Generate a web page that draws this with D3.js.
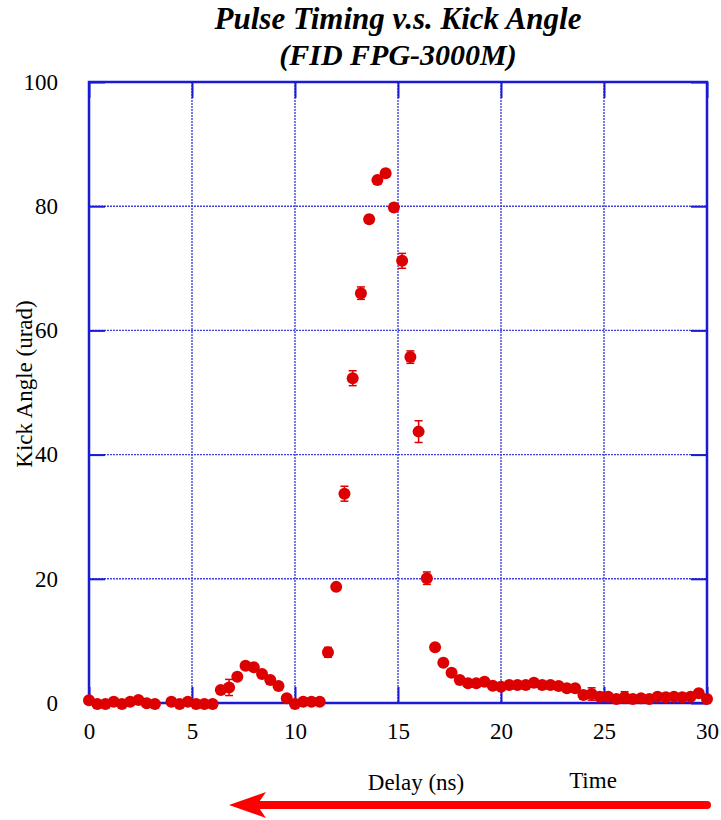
<!DOCTYPE html>
<html>
<head>
<meta charset="utf-8">
<script src="https://cdn.jsdelivr.net/npm/d3@7/dist/d3.min.js"></script>
<style>
  body { margin: 0; background: #fff; }
  text { font-family: "Liberation Serif", "Times New Roman", serif; fill: #000; }
</style>
</head>
<body>
<svg id="chart"></svg>
<script>
const width = 721;
const height = 820;

// delay (ns) of each measurement
const delay = [0, 0.4, 0.8, 1.2, 1.6, 2.0, 2.4, 2.8, 3.2, 4.0, 4.4, 4.8, 5.2, 5.6, 6.0,
  6.4, 6.8, 7.2, 7.6, 8.0, 8.4, 8.8, 9.2, 9.6, 10.0, 10.4, 10.8, 11.2, 11.6,
  12.0, 12.4, 12.8, 13.2, 13.6, 14.0, 14.4, 14.8, 15.2, 15.6, 16.0, 16.4, 16.8,
  17.2, 17.6, 18.0, 18.4, 18.8, 19.2, 19.6, 20.0, 20.4, 20.8, 21.2, 21.6, 22.0,
  22.4, 22.8, 23.2, 23.6, 24.0, 24.4, 24.8, 25.2, 25.6, 26.0, 26.4, 26.8, 27.2,
  27.6, 28.0, 28.4, 28.8, 29.2, 29.6, 30.0];

// kick angle (urad)
const kick = [0.43, -0.16, -0.16, 0.21, -0.16, 0.21, 0.48, -0.05, -0.16, 0.21, -0.16, 0.21, -0.16, -0.16, -0.16,
  2.09, 2.5, 4.24, 6.0, 5.75, 4.67, 3.7, 2.74, 0.75, -0.16, 0.21, 0.21, 0.21, 8.16,
  18.7, 33.7, 52.3, 66.0, 77.9, 84.2, 85.3, 79.8, 71.2, 55.7, 43.7, 20.1, 8.97,
  6.49, 4.88, 3.7, 3.17, 3.17, 3.43, 2.79, 2.6, 2.9, 2.9, 2.9, 3.27, 2.9,
  2.9, 2.74, 2.37, 2.37, 1.29, 1.45, 1.01, 1.01, 0.64, 0.92, 0.64, 0.76, 0.64,
  1.01, 0.92, 1.01, 0.92, 1.01, 1.56, 0.64];

// error bar half-length (urad)
const kickErr = [0.3, 0.3, 0.3, 0.3, 0.3, 0.3, 0.3, 0.3, 0.3, 0.3, 0.3, 0.3, 0.3, 0.3, 0.3,
  0.5, 1.3, 0.5, 0.4, 0.4, 0.4, 0.4, 0.4, 0.5, 0.3, 0.3, 0.3, 0.3, 0.8,
  0.5, 1.2, 1.2, 1.0, 0.6, 0.6, 0.6, 0.6, 1.2, 1.0, 1.75, 1.0, 0.5,
  0.4, 0.4, 0.4, 0.4, 0.4, 0.4, 0.4, 0.4, 0.4, 0.4, 0.4, 0.4, 0.4,
  0.4, 0.4, 0.4, 0.4, 0.6, 1.0, 0.5, 0.5, 0.5, 0.9, 0.5, 0.5, 0.5,
  0.5, 0.5, 0.5, 0.5, 0.5, 0.6, 0.5];

const xTicks = [0, 5, 10, 15, 20, 25, 30];
const yTicks = [0, 20, 40, 60, 80, 100];

const titleLines = ['Pulse Timing v.s. Kick Angle', '(FID FPG-3000M)'];

const plotLeft = 89, plotRight = 707, plotTop = 82, plotBottom = 703;
const blue = '#1a1ad6';
const red = '#dd0000';

const svg = d3.select('#chart')
    .attr('width', width)
    .attr('height', height);

const x = d3.scaleLinear().domain([0, 30]).range([plotLeft, plotRight]);
const y = d3.scaleLinear().domain([0, 100]).range([plotBottom, plotTop]);

// grid lines
const grid = svg.append('g');
grid.selectAll('.vgrid')
    .data(xTicks.slice(1, -1)).enter()
    .append('line')
    .attr('x1', d => x(d)).attr('x2', d => x(d))
    .attr('y1', plotTop).attr('y2', plotBottom)
    .attr('stroke', '#4040e0')
    .attr('stroke-width', 1.4)
    .attr('stroke-dasharray', '2,1');
grid.selectAll('.hgrid')
    .data(yTicks.slice(1, -1)).enter()
    .append('line')
    .attr('x1', plotLeft).attr('x2', plotRight)
    .attr('y1', d => y(d)).attr('y2', d => y(d))
    .attr('stroke', '#4040e0')
    .attr('stroke-width', 1.4)
    .attr('stroke-dasharray', '2,1');

// axes with inward ticks
const xAxis = svg.append('g')
    .attr('transform', `translate(0, ${plotBottom})`)
    .call(d3.axisBottom(x).tickValues(xTicks).tickSizeInner(-16).tickSizeOuter(0).tickPadding(20));
const yAxis = svg.append('g')
    .attr('transform', `translate(${plotLeft}, 0)`)
    .call(d3.axisLeft(y).tickValues(yTicks).tickSizeInner(-16).tickSizeOuter(0).tickPadding(31));
const xAxisTop = svg.append('g')
    .attr('transform', `translate(0, ${plotTop})`)
    .call(d3.axisTop(x).tickValues(xTicks).tickSizeInner(-16).tickSizeOuter(0).tickFormat(''));
const yAxisRight = svg.append('g')
    .attr('transform', `translate(${plotRight}, 0)`)
    .call(d3.axisRight(y).tickValues(yTicks).tickSizeInner(-16).tickSizeOuter(0).tickFormat(''));

[xAxis, yAxis, xAxisTop, yAxisRight].forEach(a => {
    a.select('.domain').remove();
    a.selectAll('line').attr('stroke', blue).attr('stroke-width', 2);
    a.selectAll('text')
        .style('font-family', '"Liberation Serif", "Times New Roman", serif')
        .style('font-size', '23px')
        .attr('fill', '#000');
});
xAxis.selectAll('text').attr('dy', '0.71em');

// frame
svg.append('rect')
    .attr('x', plotLeft).attr('y', plotTop)
    .attr('width', plotRight - plotLeft).attr('height', plotBottom - plotTop)
    .attr('fill', 'none')
    .attr('stroke', blue)
    .attr('stroke-width', 2.5);

// data
const points = delay.map((d, i) => ({ t: d, k: kick[i], e: kickErr[i] }));

const errs = svg.append('g').attr('stroke', red).attr('stroke-width', 1.5);
errs.selectAll('line.bar')
    .data(points).enter()
    .append('line')
    .attr('x1', d => x(d.t)).attr('x2', d => x(d.t))
    .attr('y1', d => y(d.k - d.e)).attr('y2', d => y(d.k + d.e));
errs.selectAll('line.capTop')
    .data(points).enter()
    .append('line')
    .attr('x1', d => x(d.t) - 4).attr('x2', d => x(d.t) + 4)
    .attr('y1', d => y(d.k + d.e)).attr('y2', d => y(d.k + d.e));
errs.selectAll('line.capBot')
    .data(points).enter()
    .append('line')
    .attr('x1', d => x(d.t) - 4).attr('x2', d => x(d.t) + 4)
    .attr('y1', d => y(d.k - d.e)).attr('y2', d => y(d.k - d.e));

svg.append('g').selectAll('circle')
    .data(points).enter()
    .append('circle')
    .attr('cx', d => x(d.t))
    .attr('cy', d => y(d.k))
    .attr('r', 6)
    .attr('fill', red);

// title
svg.append('g').selectAll('text')
    .data(titleLines).enter()
    .append('text')
    .attr('x', (plotLeft + plotRight) / 2)
    .attr('y', (d, i) => 29 + i * 36)
    .attr('text-anchor', 'middle')
    .style('font-size', (d, i) => i === 0 ? '31px' : '30px')
    .style('font-weight', 'bold')
    .style('font-style', 'italic')
    .text(d => d);

// axis labels
svg.append('text')
    .attr('transform', 'translate(32, 384) rotate(-90)')
    .attr('text-anchor', 'middle')
    .style('font-size', '23px')
    .text('Kick Angle (urad)');

svg.append('text')
    .attr('x', 416).attr('y', 790)
    .attr('text-anchor', 'middle')
    .style('font-size', '23px')
    .text('Delay (ns)');

svg.append('text')
    .attr('x', 593).attr('y', 788)
    .attr('text-anchor', 'middle')
    .style('font-size', '23px')
    .text('Time');

// time arrow
svg.append('line')
    .attr('x1', 707).attr('y1', 805)
    .attr('x2', 250).attr('y2', 805)
    .attr('stroke', '#ff0000')
    .attr('stroke-width', 8)
    .attr('stroke-linecap', 'round');
svg.append('path')
    .attr('d', 'M229,805 L266,792 L257,805 L266,818 Z')
    .attr('fill', '#ff0000');
</script>
</body>
</html>
